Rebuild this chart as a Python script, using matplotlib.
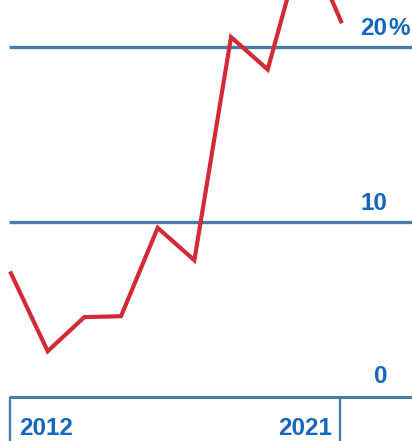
import matplotlib
matplotlib.use("Agg")
import matplotlib.pyplot as plt

# Annual share, percent
years = [2012, 2013, 2014, 2015, 2016, 2017, 2018, 2019, 2020, 2021]
share = [7.05, 2.6, 4.55, 4.6, 9.65, 7.8, 20.55, 18.7, 26.3, 21.45]

grid_levels = [10, 20]
level_labels = ["0", "10", "20"]
level_values = [0, 10, 20]
top_suffix = "%"
year_ticks = [2012, 2021]
year_labels = ["2012", "2021"]

BLUE_LINE = "#4a7ca8"
BLUE_TEXT = "#1467bd"
RED = "#d42a38"
FS = 17.5

plt.rcParams["font.family"] = ["Liberation Sans", "DejaVu Sans"]

fig = plt.figure(figsize=(4.12, 4.41), dpi=100)
ax = fig.add_axes([0, 0, 1, 1])
ax.set_xlim(2011.70, 2022.935)
ax.set_ylim(-2.53, 22.67)
ax.axis("off")

px_x = (2022.935 - 2011.70) / 412
px_y = (22.67 + 2.53) / 441

x_left = 2012 - 2 * px_x
x_right = ax.get_xlim()[1]

# horizontal reference lines and the baseline
ax.hlines(grid_levels, x_left, x_right, color=BLUE_LINE, lw=2.4, zorder=1)
ax.hlines(0, x_left, x_right, color=BLUE_LINE, lw=2.2, zorder=1)

# year ticks hanging below the baseline
for yr in year_ticks:
    ax.vlines(yr - 0.03, ax.get_ylim()[0], 0, color=BLUE_LINE, lw=1.7, zorder=1)

ax.plot(years, share, color=RED, lw=3.0, solid_joinstyle="miter", zorder=3)

# value labels at the right edge
label_x = 2012 + (387 - 11) * px_x
for lab, val in zip(level_labels, level_values):
    off = 13.5 if val == 0 else 11.7
    ax.text(label_x, val + off * px_y, lab, ha="right", va="baseline",
            color=BLUE_TEXT, fontsize=FS, fontweight="bold")
ax.text(label_x + 1 * px_x, level_values[-1] + 11.7 * px_y, top_suffix, ha="left",
        va="baseline", color=BLUE_TEXT, fontsize=FS, fontweight="bold")

# year labels
yb = -(435 - 396.7) * px_y
ax.text(year_ticks[0] + 8 * px_x, yb, year_labels[0], ha="left", va="baseline",
        color=BLUE_TEXT, fontsize=FS, fontweight="bold")
ax.text(year_ticks[1] - 9 * px_x, yb, year_labels[1], ha="right", va="baseline",
        color=BLUE_TEXT, fontsize=FS, fontweight="bold")

fig.savefig("out.png", dpi=100)
